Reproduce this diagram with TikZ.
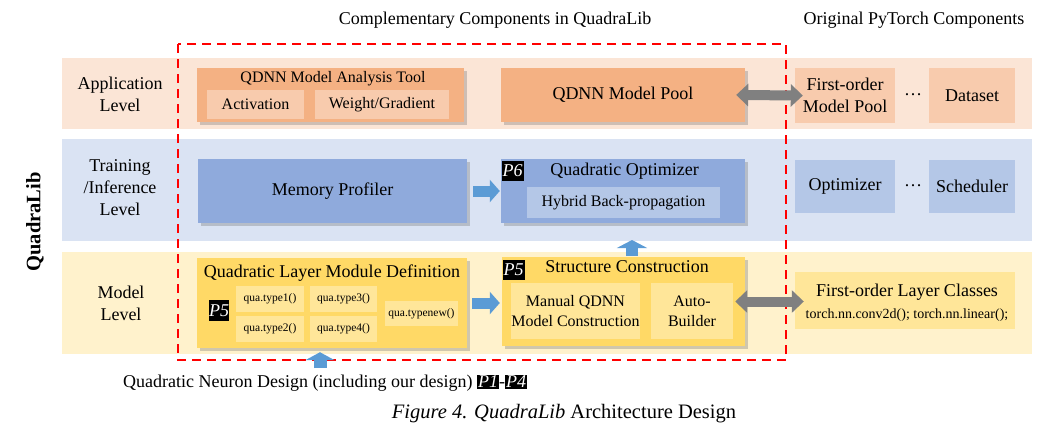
\documentclass[tikz,border=0pt]{standalone}
\usepackage{fontspec}
\setmainfont{Liberation Serif}
\usetikzlibrary{shadows,arrows.meta,calc}
\definecolor{cAppBg}{HTML}{FBE5D6}
\definecolor{cTrBg}{HTML}{DAE3F3}
\definecolor{cMoBg}{HTML}{FFF2CC}
\definecolor{cOrange}{HTML}{F4B183}
\definecolor{cOrangeL}{HTML}{F8CBAD}
\definecolor{cBlue}{HTML}{8FAADC}
\definecolor{cBlueL}{HTML}{B4C7E7}
\definecolor{cYel}{HTML}{FFD966}
\definecolor{cYelL}{HTML}{FFE699}
\definecolor{cArrB}{HTML}{5B9BD5}
\definecolor{cArrG}{HTML}{808080}
\definecolor{cRed}{HTML}{FF0000}
\newcommand\szL{\fontsize{18}{22}\selectfont}
\newcommand\szM{\fontsize{16}{20}\selectfont}
\newcommand\szS{\fontsize{11.5}{14}\selectfont}
\newcommand\szC{\fontsize{14}{17}\selectfont}
\newcommand\pbadge[1]{{\setlength\fboxsep{1pt}\colorbox{black}{\textcolor{white}{\itshape #1}}}}
\begin{document}
\begin{tikzpicture}[x=1pt,y=-1pt,
  txt/.style={inner sep=0pt, align=center, font=\szL},
  shad/.style={drop shadow={shadow xshift=2.5pt, shadow yshift=-2.5pt, opacity=0.3, fill=black!60}},
  flatbox/.style={rectangle, inner sep=0pt, align=center, font=\szL},
  mainbox/.style={flatbox, shad},
  subbox/.style={rectangle, inner sep=0pt, align=center, font=\szM},
  badge/.style={rectangle, fill=black, text=white, inner sep=0pt, font=\szL\itshape, minimum width=22pt, minimum height=20pt},
  barrowR/.style={draw=cArrB, line width=11pt, -{Triangle[length=10pt, width=22pt]}},
  barrowU/.style={draw=cArrB, line width=12pt, -{Triangle[length=8pt, width=30pt]}},
  garrow/.style={draw=cArrG, line width=10pt, {Triangle[length=12pt, width=22pt]}-{Triangle[length=12pt, width=22pt]}},
  redbox/.style={draw=cRed, line width=2.2pt, dash pattern=on 9pt off 6pt}
]
\useasboundingbox (0,0) rectangle (1062,434);
\fill[white] (0,0) rectangle (1062,434);

% bands
\fill[cAppBg] (62,58) rectangle (1032,129);
\fill[cTrBg] (62,139) rectangle (1032,241);
\fill[cMoBg] (62,252) rectangle (1032,354);

% headings
\node[txt] (hc) at (495,20) {Complementary Components in QuadraLib};
\node[txt] (ho) at (914,20) {Original PyTorch Components};
\node[txt, rotate=90, font=\fontsize{20.5}{24}\selectfont\bfseries] (ql) at (35,222) {QuadraLib};

% level labels
\node[txt] (lapp) at (120,94) {Application\\Level};
\node[txt] (ltr) at (120,188) {Training\\/Inference\\Level};
\node[txt] (lmo) at (121,303) {Model\\Level};

% red dashed region
\draw[redbox] (178,44) rectangle (786,360);

% application row
\node[mainbox, fill=cOrange, minimum width=267pt, minimum height=54pt] (at) at (330.5,95) {};
\node[txt, font=\szM] (att) at (333,79) {QDNN Model Analysis Tool};
\node[subbox, fill=cOrangeL, minimum width=97pt, minimum height=29pt] (act) at (255.5,104.5) {Activation};
\node[subbox, fill=cOrangeL, minimum width=134pt, minimum height=29pt] (wg) at (382,104.5) {Weight/Gradient};
\node[mainbox, fill=cOrange, minimum width=244pt, minimum height=54pt] (qp) at (623,95) {QDNN Model Pool};
\node[flatbox, fill=cOrangeL, minimum width=100pt, minimum height=55pt] (fmp) at (845,95.5) {First-order\\Model Pool};
\node[txt] (d1) at (913,95) {…};
\node[flatbox, fill=cOrangeL, minimum width=86pt, minimum height=55pt] (ds) at (972,95.5) {Dataset};

% training row
\node[mainbox, fill=cBlue, minimum width=269pt, minimum height=64pt] (mp) at (332.5,191) {Memory Profiler};
\node[mainbox, fill=cBlue, minimum width=244pt, minimum height=64pt] (qo) at (623,191) {};
\node[txt] (qot) at (624.5,171) {Quadratic Optimizer};
\node[badge] (p6) at (512.5,171) {P6};
\node[subbox, fill=cBlueL, minimum width=193pt, minimum height=31pt] (hb) at (623.5,202.5) {Hybrid Back-propagation};
\node[flatbox, fill=cBlueL, minimum width=100pt, minimum height=53pt] (opt) at (845,186.5) {Optimizer};
\node[txt] (d2) at (913,186) {…};
\node[flatbox, fill=cBlueL, minimum width=86pt, minimum height=53pt] (sch) at (972,186.5) {Scheduler};

% model row
\node[mainbox, fill=cYel, minimum width=270pt, minimum height=90pt] (lm) at (332,303) {};
\node[txt] (lmt) at (332,273) {Quadratic Layer Module Definition};
\node[badge, minimum width=20pt, minimum height=21pt] (p5a) at (219,310.5) {P5};
\node[subbox, fill=cYelL, font=\szS, minimum width=68pt, minimum height=26pt] (t1) at (270,299) {qua.type1()};
\node[subbox, fill=cYelL, font=\szS, minimum width=67pt, minimum height=26pt] (t3) at (343.5,299) {qua.type3()};
\node[subbox, fill=cYelL, font=\szS, minimum width=68pt, minimum height=26pt] (t2) at (270,329) {qua.type2()};
\node[subbox, fill=cYelL, font=\szS, minimum width=67pt, minimum height=26pt] (t4) at (343.5,329) {qua.type4()};
\node[subbox, fill=cYelL, font=\szS, minimum width=73pt, minimum height=25pt] (tn) at (421.5,313.5) {qua.typenew()};

\node[mainbox, fill=cYel, minimum width=243pt, minimum height=89pt] (sc) at (623.5,301.5) {};
\node[txt] (sct) at (627,267) {Structure Construction};
\node[badge] (p5b) at (513.5,270) {P5};
\node[subbox, fill=cYelL, minimum width=127pt, minimum height=56pt] (man) at (575.5,311) {Manual QDNN\\Model Construction};
\node[subbox, fill=cYelL, minimum width=82pt, minimum height=56pt] (ab) at (692,311) {Auto-\\Builder};

\node[flatbox, fill=cYelL, minimum width=220pt, minimum height=57pt] (flc) at (905,300.5) {};
\node[txt] (flct) at (907,292) {First-order Layer Classes};
\node[txt, font=\szC] (flcc) at (907,315) {torch.nn.conv2d(); torch.nn.linear();};

% blue arrows
\draw[barrowR, shorten <=6pt, shorten >=1pt] (mp.east) -- (qo.west);
\draw[barrowR, shorten <=5pt, shorten >=2pt] (lm.east) -- (lm.east -| sc.west);
\coordinate (uptip) at (632,240);
\draw[barrowU, shorten <=1pt] ([xshift=8.5pt]sc.north) -- (uptip);
\coordinate (nd) at (320,368);
\draw[barrowU, line width=13pt, -{Triangle[length=8pt, width=29pt]}, shorten >=4pt] (nd) -- (nd |- lm.south);

% gray double arrows
\draw[garrow, shorten <=-9pt, shorten >=-8pt] (qp.east) -- (fmp.west);
\draw[garrow, shorten <=-10pt, shorten >=-9pt] (sc.east) -- (sc.east -| flc.west);

% bottom texts
\node[txt, anchor=west] (neu) at (123,383) {Quadratic Neuron Design (including our design) \pbadge{P1}-\pbadge{P4}};
\node[txt, font=\fontsize{20.5}{24}\selectfont] (cap) at (564,414) {\textit{Figure 4. QuadraLib} Architecture Design};
\end{tikzpicture}
\end{document}
